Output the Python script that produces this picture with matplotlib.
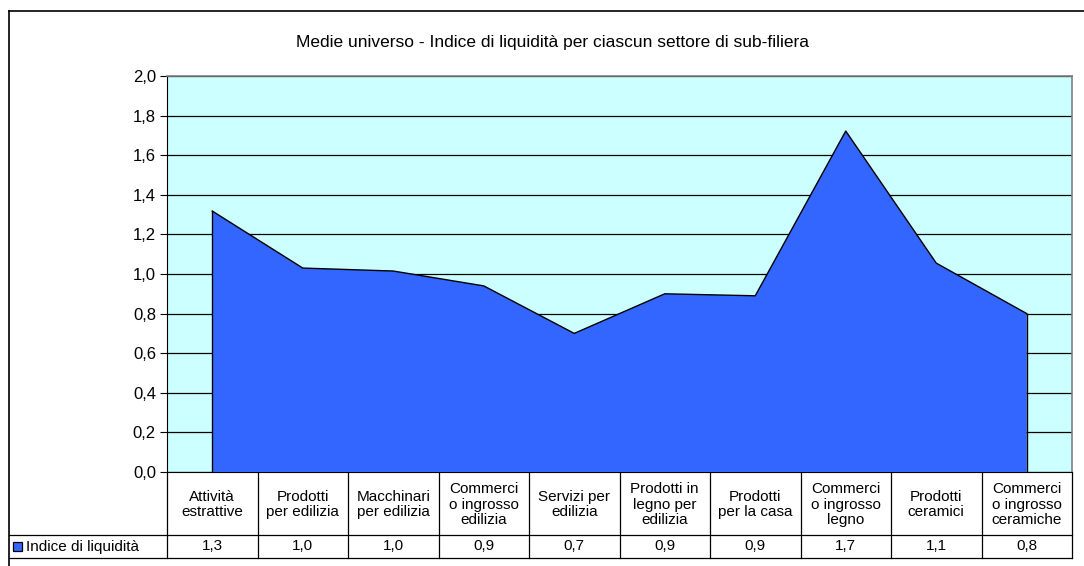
import matplotlib.pyplot as plt
from matplotlib.lines import Line2D
from matplotlib.patches import Rectangle
import matplotlib.transforms as mtransforms

plt.rcParams['font.family'] = ['Liberation Sans', 'DejaVu Sans']

# Data
categories = ["Attività\nestrattive", "Prodotti\nper edilizia", "Macchinari\nper edilizia",
              "Commerci\no ingrosso\nedilizia", "Servizi per\nedilizia", "Prodotti in\nlegno per\nedilizia",
              "Prodotti\nper la casa", "Commerci\no ingrosso\nlegno", "Prodotti\nceramici",
              "Commerci\no ingrosso\nceramiche"]
values = [1.318, 1.03, 1.015, 0.94, 0.70, 0.90, 0.89, 1.722, 1.055, 0.80]
table_labels = ["1,3", "1,0", "1,0", "0,9", "0,7", "0,9", "0,9", "1,7", "1,1", "0,8"]
yticks = [0.0, 0.2, 0.4, 0.6, 0.8, 1.0, 1.2, 1.4, 1.6, 1.8, 2.0]
series_name = "Indice di liquidità"
title = "Medie universo - Indice di liquidità per ciascun settore di sub-filiera"

W, H = 1084, 566
fig = plt.figure(figsize=(W / 100, H / 100), dpi=100)
fig.patch.set_facecolor("white")

left, right, top, bottom = 167, 1072, 76, 472
ax = fig.add_axes([left / W, 1 - bottom / H, (right - left) / W, (bottom - top) / H])
ax.set_facecolor("#CCFFFF")

x = list(range(len(values)))
ax.fill_between(x, values, 0, facecolor="#3366FF", edgecolor="none", zorder=3)
ax.plot(x, values, color="black", lw=1.0, zorder=4)
ax.plot([x[0], x[0]], [0, values[0]], color="black", lw=1.0, zorder=4)
ax.plot([x[-1], x[-1]], [0, values[-1]], color="black", lw=1.0, zorder=4)

ax.set_xlim(-0.5, len(values) - 0.5)
ax.set_ylim(0, 2.0)
ax.set_yticks(yticks)
ax.set_yticklabels([("%.1f" % v).replace(".", ",") for v in yticks], fontsize=12)
ax.yaxis.grid(True, color="black", lw=0.9, zorder=1)
ax.set_axisbelow(True)
ax.set_xticks([])
ax.tick_params(axis="y", length=5, width=0.8, pad=3, colors="black")
for s in ["top", "right"]:
    ax.spines[s].set_color("#808080")
    ax.spines[s].set_linewidth(1.2)
ax.spines["left"].set_color("black")
ax.spines["bottom"].set_color("black")

# title
fig.text(0.51, 1 - 42 / H, title, ha="center", va="center", fontsize=12.5)

# data table below the axes
trans = mtransforms.blended_transform_factory(ax.transData, ax.transAxes)
ph = bottom - top
r1 = -(535 - bottom) / ph
r2 = -(558 - bottom) / ph
xl_fig = 9

def hline(y_ax):
    # from legend cell's left edge to the plot right edge
    ln = Line2D([xl_fig / W, right / W], [1 - (bottom - y_ax * ph) / H] * 2,
                transform=fig.transFigure, color="black", lw=0.9)
    fig.add_artist(ln)

hline(r1)
hline(r2)
for k in range(len(values) + 1):
    ax.plot([k - 0.5, k - 0.5], [0, r2], transform=trans, color="black", lw=0.9, clip_on=False)

for i, (c, t) in enumerate(zip(categories, table_labels)):
    ax.text(i, r1 / 2 - 0.003, c, transform=trans, ha="center", va="center", fontsize=11,
            linespacing=1.12)
    ax.text(i, (r1 + r2) / 2, t, transform=trans, ha="center", va="center", fontsize=11)

# legend cell
ymid = 1 - (535 + 558) / 2 / H
fig.add_artist(Rectangle((13 / W, ymid - 4.5 / H), 9 / W, 9 / H, transform=fig.transFigure,
                         facecolor="#3366FF", edgecolor="black", lw=0.9))
fig.text(26 / W, ymid, series_name, ha="left", va="center", fontsize=11)

# outer chart border (left and top)
fig.add_artist(Line2D([9 / W, 9 / W], [0, 1 - 11 / H], transform=fig.transFigure, color="black", lw=1.2))
fig.add_artist(Line2D([9 / W, 1], [1 - 11 / H, 1 - 11 / H], transform=fig.transFigure, color="black", lw=1.2))

fig.savefig("out.png", dpi=100)
